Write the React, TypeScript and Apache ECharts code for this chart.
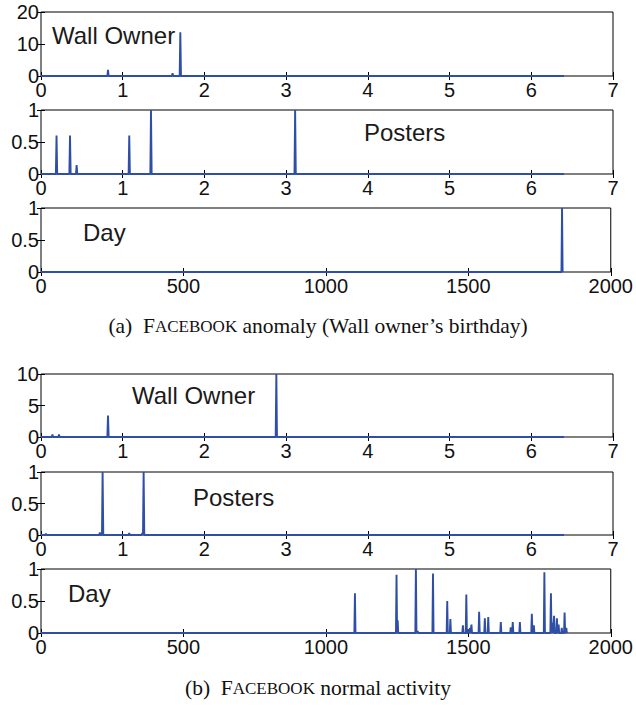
import React, { useEffect, useRef } from "react";
import * as echarts from "echarts";

// ---- data ----
const WALL_A_X = [0.82, 1.61, 1.705];
const WALL_A_Y = [1.9, 0.85, 13.7];
const POST_A_X = [0.19, 0.355, 0.436, 1.08, 1.346, 3.11];
const POST_A_Y = [0.6, 0.6, 0.14, 0.6, 1, 1];
const DAY_A_X = [1829];
const DAY_A_Y = [1];

const WALL_B_X = [0.14, 0.22, 0.82, 2.88];
const WALL_B_Y = [0.4, 0.4, 3.4, 10];
const POST_B_X = [0.06, 0.72, 0.754, 1.08, 1.24, 1.256];
const POST_B_Y = [0.02, 0.04, 1, 0.03, 0.03, 1];
const DAY_B_X = [1102, 1248, 1252, 1316, 1322, 1376, 1426, 1437, 1481, 1493, 1500, 1506, 1511, 1538, 1558, 1570, 1614, 1649, 1656, 1681, 1723, 1730, 1767, 1790, 1795, 1801, 1811, 1817, 1828, 1838, 1844];
const DAY_B_Y = [0.62, 0.91, 0.2, 1.0, 0.03, 0.93, 0.5, 0.22, 0.12, 0.6, 0.06, 0.08, 0.13, 0.33, 0.23, 0.25, 0.17, 0.09, 0.17, 0.17, 0.3, 0.12, 0.95, 0.62, 0.16, 0.27, 0.23, 0.13, 0.08, 0.32, 0.08];

const SCORE_END = 6.4;
const DAY_A_END = 1832;
const DAY_B_END = 1846;

const SCORE_TICKS = { min: 0, max: 7, interval: 1 };
const DAY_TICKS = { min: 0, max: 2000, interval: 500 };
const WALL_A_TICKS = { min: 0, max: 20, interval: 10 };
const WALL_B_TICKS = { min: 0, max: 10, interval: 5 };
const UNIT_TICKS = { min: 0, max: 1, interval: 0.5 };

const LABELS = ["Wall Owner", "Posters", "Day", "Wall Owner", "Posters", "Day"];

const BLUE = "#2f4ea6";
const SANS = "Liberation Sans, Arial, sans-serif";
const SERIF = "Liberation Serif, Times New Roman, serif";

function spikes(xs: number[], ys: number[], end: number, half: number) {
  const pts: number[][] = [[0, 0]];
  xs.forEach((x, i) => {
    pts.push([x - half, 0], [x, ys[i]], [x + half, 0]);
  });
  pts.push([end, 0]);
  return pts;
}

export default function App() {
  const ref = useRef<HTMLDivElement>(null);
  useEffect(() => {
    if (!ref.current) return;
    const chart = echarts.init(ref.current, undefined, { renderer: "svg" });

    const tops = [12, 110, 208, 374, 472, 569];
    const heights = [64, 64, 64, 63, 63, 64];
    const xTicks = [SCORE_TICKS, SCORE_TICKS, DAY_TICKS, SCORE_TICKS, SCORE_TICKS, DAY_TICKS];
    const yTicks = [WALL_A_TICKS, UNIT_TICKS, UNIT_TICKS, WALL_B_TICKS, UNIT_TICKS, UNIT_TICKS];
    const data = [
      spikes(WALL_A_X, WALL_A_Y, SCORE_END, 0.008),
      spikes(POST_A_X, POST_A_Y, SCORE_END, 0.008),
      spikes(DAY_A_X, DAY_A_Y, DAY_A_END, 2),
      spikes(WALL_B_X, WALL_B_Y, SCORE_END, 0.008),
      spikes(POST_B_X, POST_B_Y, SCORE_END, 0.008),
      spikes(DAY_B_X, DAY_B_Y, DAY_B_END, 2),
    ];

    const grid: any[] = [];
    const xAxis: any[] = [];
    const yAxis: any[] = [];
    const series: any[] = [];
    const tick = { show: true, inside: true, length: 4, lineStyle: { color: "#000", width: 1 } };
    const label = { color: "#111", fontFamily: SANS, fontSize: 20, formatter: (v: number) => String(v) };

    tops.forEach((top, i) => {
      grid.push({
        left: 41, right: 23, top, height: heights[i],
        show: true, borderColor: "#000", borderWidth: 1, backgroundColor: "#fff",
      });
      xAxis.push({
        type: "value", gridIndex: i, position: "bottom", ...xTicks[i],
        axisLine: { show: false }, axisTick: tick, splitLine: { show: false },
        axisLabel: { ...label, margin: 4, showMinLabel: true, showMaxLabel: true },
      });
      xAxis.push({
        type: "value", gridIndex: i, position: "top", ...xTicks[i],
        axisLine: { show: false }, axisTick: tick, splitLine: { show: false },
        axisLabel: { show: false },
      });
      yAxis.push({
        type: "value", gridIndex: i, position: "left", ...yTicks[i],
        axisLine: { show: false }, axisTick: tick, splitLine: { show: false },
        axisLabel: { ...label, margin: 2, showMinLabel: true, showMaxLabel: true },
      });
      yAxis.push({
        type: "value", gridIndex: i, position: "right", ...yTicks[i],
        axisLine: { show: false }, axisTick: tick, splitLine: { show: false },
        axisLabel: { show: false },
      });
      series.push({
        type: "line", xAxisIndex: i * 2, yAxisIndex: i * 2, data: data[i],
        showSymbol: false, symbol: "none", clip: false,
        lineStyle: { color: BLUE, width: 1.9 }, z: 5,
      });
    });

    const labelPos = [
      [52, 35], [364, 132], [83, 232], [132, 395], [193, 497], [68, 593],
    ];
    const graphic = LABELS.map((t, i) => ({
      type: "text", x: labelPos[i][0], y: labelPos[i][1], z: 10,
      style: { text: t, fill: "#1a1a1a", font: `24px ${SANS}`, verticalAlign: "middle", align: "left" },
    }));

    const rich = {
      n: { fontFamily: SERIF, fontSize: 21.5, fontWeight: "normal", color: "#111" },
      s: { fontFamily: SERIF, fontSize: 17, fontWeight: "normal", color: "#111" },
    };

    chart.setOption({
      animation: false,
      backgroundColor: "#fff",
      grid, xAxis, yAxis, series, graphic,
      title: [
        {
          text: "{n|(a)  F}{s|ACEBOOK}{n| anomaly (Wall owner’s birthday)}",
          left: "center", top: 315, padding: 0,
          textStyle: { fontWeight: "normal", rich },
        },
        {
          text: "{n|(b)  F}{s|ACEBOOK}{n| normal activity}",
          left: "center", top: 677, padding: 0,
          textStyle: { fontWeight: "normal", rich },
        },
      ],
    });
    return () => chart.dispose();
  }, []);
  return <div ref={ref} style={{ position: "absolute", left: 0, top: 0, width: 636, height: 706 }} />;
}
